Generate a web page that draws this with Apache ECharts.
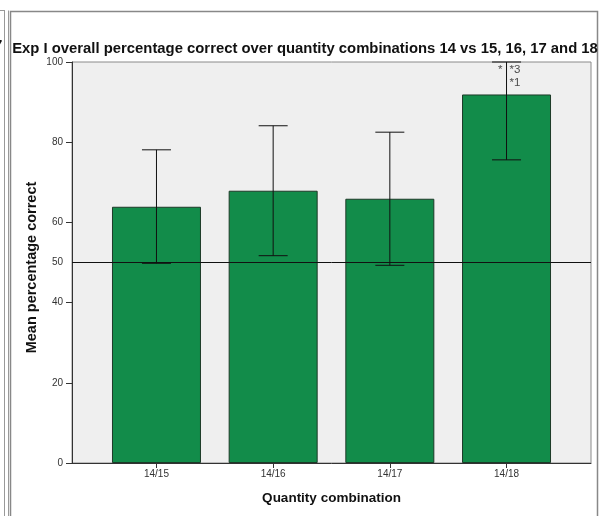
<!DOCTYPE html>
<html>
<head>
<meta charset="utf-8">
<script src="https://cdn.jsdelivr.net/npm/echarts@6/dist/echarts.min.js"></script>
<style>
  html, body { margin: 0; padding: 0; background: #fff; }
  #container { width: 601px; height: 516px; }
</style>
</head>
<body>
<div id="container"></div>
<script>
var categories = ['14/15', '14/16', '14/17', '14/18'];
var means = [63.9, 67.9, 65.9, 91.9];
var ciLower = [49.8, 51.7, 49.3, 75.6];
var ciUpper = [78.1, 84.1, 82.5, 100];
var yTicks = [0, 20, 40, 60, 80, 100];
var yLabels = [0, 20, 40, 50, 60, 80, 100];
var chanceLevel = 50;
// outlier markers drawn by SPSS near the top of the last bar
var markerText = ['*', '*3', '*1'];
var markerCat = [3, 3, 3];
var markerVal = [98, 98, 94.8];
var markerSide = ['left', 'right', 'right'];

var myChart = echarts.init(document.getElementById('container'));
var font = 'Liberation Sans, Arial, sans-serif';

option = {
	animation: false,
	textStyle: { fontFamily: font },
	title: {
		text: 'Exp I overall percentage correct over quantity combinations 14 vs 15, 16, 17 and 18',
		left: 300,
		textAlign: 'center',
		top: 36,
		textStyle: { fontSize: 14.85, fontWeight: 'bold', color: '#111', fontFamily: font }
	},
	grid: {
		left: 72, right: 10, top: 62, bottom: 53,
		show: true,
		backgroundColor: '#efefef',
		borderColor: '#8a8a8a',
		borderWidth: 1
	},
	xAxis: {
		type: 'value',
		min: -0.724,
		max: 3.724,
		name: 'Quantity combination',
		nameLocation: 'middle',
		nameGap: 28,
		nameTextStyle: { fontSize: 13.5, fontWeight: 'bold', color: '#111' },
		axisLine: { show: true, onZero: false, lineStyle: { color: '#333', width: 1 } },
		axisTick: { show: true, length: 5, customValues: [0, 1, 2, 3], lineStyle: { color: '#333' } },
		axisLabel: {
			customValues: [0, 1, 2, 3],
			fontSize: 10, color: '#333', margin: 6,
			formatter: function (v) { return categories[Math.round(v)]; }
		},
		splitLine: { show: false }
	},
	yAxis: {
		type: 'value',
		min: 0,
		max: 100,
		name: 'Mean percentage correct',
		nameLocation: 'middle',
		nameGap: 33,
		nameMoveOverlap: false,
		nameTextStyle: { fontSize: 14.5, fontWeight: 'bold', color: '#111', padding: [0, 10, 0, 0] },
		axisLine: { show: true, onZero: false, lineStyle: { color: '#333', width: 1 } },
		axisTick: { show: true, length: 6, customValues: yTicks, lineStyle: { color: '#333' } },
		axisLabel: { customValues: yLabels, fontSize: 10, color: '#333', margin: 9 },
		splitLine: { show: false }
	},
	series: [{
		type: 'bar',
		barWidth: 89,
		data: means.map(function (m, i) { return [i, m]; }),
		itemStyle: { color: '#128c4a', borderColor: '#1d3a28', borderWidth: 1 },
		markLine: {
			silent: true,
			symbol: 'none',
			label: { show: false },
			lineStyle: { color: '#111', width: 1, type: 'solid' },
			data: [{ yAxis: chanceLevel }]
		}
	}, {
		type: 'custom',
		data: ciLower.map(function (lo, i) { return [i, lo, ciUpper[i]]; }),
		encode: { x: 0, y: [1, 2] },
		renderItem: function (params, api) {
			var x = api.value(0);
			var lo = api.coord([x, api.value(1)]);
			var hi = api.coord([x, api.value(2)]);
			var half = 14.5;
			return {
				type: 'path',
				shape: {
					pathData: 'M' + (hi[0] - half) + ' ' + hi[1] + 'L' + (hi[0] + half) + ' ' + hi[1] +
						'M' + hi[0] + ' ' + hi[1] + 'L' + lo[0] + ' ' + lo[1] +
						'M' + (lo[0] - half) + ' ' + lo[1] + 'L' + (lo[0] + half) + ' ' + lo[1]
				},
				style: { stroke: '#111', lineWidth: 1, fill: null }
			};
		},
		z: 5
	}, {
		type: 'scatter',
		symbolSize: 0,
		data: markerText.map(function (t, i) {
			return {
				value: [markerCat[i], markerVal[i]],
				label: {
					show: true,
					formatter: t,
					position: markerSide[i],
					distance: markerSide[i] === 'left' ? 4 : 3,
					fontSize: 11.5,
					color: '#222'
				}
			};
		}),
		z: 6
	}],
	graphic: [
		{ type: 'text', left: -6, top: 38, style: { text: '7', font: 'bold 15px ' + font, fill: '#111' } },
		{ type: 'line', shape: { x1: 4.5, y1: 10, x2: 4.5, y2: 516 }, style: { stroke: '#999', lineWidth: 1 } },
		{ type: 'line', shape: { x1: 8.5, y1: 10.5, x2: 8.5, y2: 516 }, style: { stroke: '#999', lineWidth: 1 } },
		{ type: 'line', shape: { x1: 0, y1: 10.5, x2: 5, y2: 10.5 }, style: { stroke: '#999', lineWidth: 1 } },
		{ type: 'rect', shape: { x: 10.5, y: 11.5, width: 587, height: 510 }, style: { fill: null, stroke: '#888', lineWidth: 1.5 } }
	]
};

myChart.setOption(option);
</script>
</body>
</html>
